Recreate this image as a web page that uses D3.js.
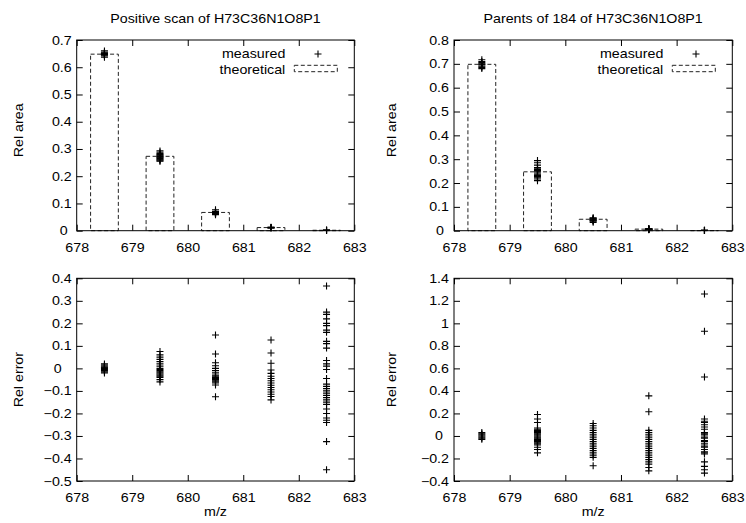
<!DOCTYPE html>
<html>
<head>
<meta charset="utf-8">
<script src="https://cdn.jsdelivr.net/npm/d3@7"></script>
<style>
  body { margin: 0; background: #fff; }
  text { font-family: "Liberation Sans", Arial, Helvetica, sans-serif; fill: #000; }
</style>
</head>
<body>
<div class="chart"></div>
<script>
// peak positions (m/z) and axis ticks
var peaks = [678.5, 679.5, 680.5, 681.5, 682.5];
var mzTicks = [678, 679, 680, 681, 682, 683];

// theoretical isotope distributions
var theoPositive = [0.648, 0.273, 0.067, 0.0115, 0.0016];
var theoParents = [0.698, 0.247, 0.048, 0.0065, 0.0008];

// measured relative areas, one list per peak
var measPositive = [
    [0.637, 0.642, 0.645, 0.647, 0.648, 0.65, 0.652, 0.655, 0.66],
    [0.293, 0.288, 0.283, 0.28, 0.277, 0.275, 0.272, 0.27, 0.268, 0.265, 0.262, 0.26, 0.257, 0.255],
    [0.077, 0.071, 0.068, 0.067, 0.066, 0.065, 0.064, 0.063, 0.062, 0.059],
    [0.013, 0.012, 0.011, 0.0105, 0.01],
    [0.002, 0.0017, 0.0015, 0.0012]
];
var measParents = [
    [0.717, 0.71, 0.705, 0.7, 0.698, 0.695, 0.69, 0.685, 0.68],
    [0.294, 0.285, 0.275, 0.265, 0.262, 0.257, 0.252, 0.247, 0.242, 0.237, 0.232, 0.227, 0.222, 0.217, 0.21],
    [0.054, 0.052, 0.05, 0.048, 0.046, 0.044, 0.042, 0.04, 0.035],
    [0.0088, 0.0079, 0.007, 0.0065, 0.006, 0.0055, 0.005, 0.0045],
    [0.0018, 0.0015, 0.0012, 0.0008, 0.0006]
];

// relative errors, one list per peak
var errPositive = [
    [-0.02, -0.015, -0.01, -0.005, 0, 0.003, 0.005, 0.01, 0.015, 0.02],
    [0.075, 0.06, 0.05, 0.04, 0.03, 0.02, 0.01, 0, -0.005, -0.01, -0.015, -0.02, -0.025, -0.03, -0.035, -0.04, -0.05, -0.06],
    [0.148, 0.064, 0.025, 0.012, 0, -0.01, -0.02, -0.03, -0.035, -0.04, -0.045, -0.05, -0.055, -0.06, -0.065, -0.074, -0.126],
    [0.126, 0.068, 0.023, -0.007, -0.022, -0.035, -0.045, -0.055, -0.065, -0.075, -0.085, -0.095, -0.105, -0.115, -0.125, -0.14],
    [0.366, 0.25, 0.24, 0.22, 0.2, 0.19, 0.17, 0.16, 0.12, 0.11, 0.09, 0.035, 0.02, 0.01, -0.005,
     -0.045, -0.07, -0.08, -0.09, -0.1, -0.11, -0.12, -0.13, -0.14, -0.15, -0.16, -0.18, -0.2, -0.22, -0.23, -0.24, -0.325, -0.45]
];
var errParents = [
    [-0.03, -0.02, -0.01, 0, 0.01, 0.02, 0.03],
    [0.19, 0.15, 0.12, 0.07, 0.06, 0.05, 0.04, 0.03, 0.02, 0.01, 0, -0.01, -0.02, -0.03, -0.04, -0.05, -0.06, -0.07, -0.08, -0.1, -0.12, -0.15],
    [0.11, 0.09, 0.07, 0.05, 0.03, 0.01, -0.01, -0.03, -0.05, -0.07, -0.09, -0.11, -0.13, -0.15, -0.17, -0.19, -0.265],
    [0.356, 0.215, 0.05, 0.03, 0.01, -0.01, -0.03, -0.05, -0.07, -0.09, -0.11, -0.13, -0.15, -0.17, -0.19, -0.21, -0.23, -0.25, -0.28, -0.31],
    [1.26, 0.93, 0.523, 0.15, 0.13, 0.12, 0.1, 0.08, 0.06, 0.03, 0.02, 0.01, -0.01, -0.02, -0.04, -0.05, -0.07, -0.09, -0.1, -0.12, -0.14, -0.15, -0.16, -0.23, -0.27, -0.3, -0.33]
];

var areaTicksPositive = [0, 0.1, 0.2, 0.3, 0.4, 0.5, 0.6, 0.7];
var areaTicksParents = [0, 0.1, 0.2, 0.3, 0.4, 0.5, 0.6, 0.7, 0.8];
var errTicksPositive = [-0.5, -0.4, -0.3, -0.2, -0.1, 0, 0.1, 0.2, 0.3, 0.4];
var errTicksParents = [-0.4, -0.2, 0, 0.2, 0.4, 0.6, 0.8, 1, 1.2, 1.4];

var svg = d3.select(".chart")
    .append("svg")
    .attr("width", 746)
    .attr("height", 523);

// the original lettering is a little wider than it is tall
var fontSize = 12.5;
var stretch = 1.14;
var plus = "M-3.5,0H3.5M0,-3.5V3.5";

function label(g, x, y, str, anchor, rotate) {
    return g.append("text")
        .attr("transform", "translate(" + x + "," + y + ")" + (rotate ? " rotate(-90)" : "") + " scale(" + stretch + ",1)")
        .attr("text-anchor", anchor)
        .attr("font-size", fontSize)
        .text(str);
}

function panel(p) {
    var x = d3.scaleLinear().domain([678, 683]).range([p.left, p.right]);
    var y = d3.scaleLinear().domain(d3.extent(p.yTicks)).range([p.bottom, p.top]);
    var g = svg.append("g");

    // inward ticks on all four sides
    g.append("g")
        .attr("transform", "translate(0," + p.bottom + ")")
        .call(d3.axisBottom(x).tickValues(mzTicks).tickFormat(d3.format("d")).tickSize(-6).tickPadding(12).tickSizeOuter(0));
    g.append("g")
        .attr("transform", "translate(0," + p.top + ")")
        .call(d3.axisTop(x).tickValues(mzTicks).tickFormat("").tickSize(-6).tickSizeOuter(0));
    var left = g.append("g")
        .attr("transform", "translate(" + p.left + ",0)")
        .call(d3.axisLeft(y).tickValues(p.yTicks).tickFormat(d3.format("")).tickSize(-6).tickPadding(4.4).tickSizeOuter(0));
    g.append("g")
        .attr("transform", "translate(" + p.right + ",0)")
        .call(d3.axisRight(y).tickValues(p.yTicks).tickFormat("").tickSize(-6).tickSizeOuter(0));

    g.selectAll(".domain").remove();
    g.selectAll(".tick line").attr("stroke", "#000");
    g.selectAll(".tick text")
        .attr("font-size", fontSize)
        .attr("font-family", null)
        .attr("transform", "scale(" + stretch + ",1)");
    left.selectAll(".tick text")
        .filter(function(d) { return d === 0; })
        .attr("dx", -p.zeroShift / stretch);

    // theoretical boxes
    if (p.theo) {
        g.selectAll(".box")
            .data(p.theo)
            .enter().append("rect")
            .attr("class", "box")
            .attr("x", function(d, i) { return x(peaks[i] - 0.25); })
            .attr("y", function(d) { return y(d); })
            .attr("width", function(d, i) { return x(peaks[i] + 0.25) - x(peaks[i] - 0.25); })
            .attr("height", function(d) { return y(0) - y(d); })
            .style("fill", "none")
            .style("stroke", "#222")
            .style("stroke-width", "1")
            .style("stroke-dasharray", "4,2.5");
    }

    // measured points
    var pts = [];
    p.points.forEach(function(list, i) {
        list.forEach(function(v) { pts.push({ mz: peaks[i], v: v }); });
    });
    g.selectAll(".pt")
        .data(pts)
        .enter().append("path")
        .attr("class", "pt")
        .attr("d", plus)
        .attr("transform", function(d) { return "translate(" + x(d.mz) + "," + y(d.v) + ")"; })
        .style("stroke", "#000")
        .style("stroke-width", "1.1")
        .style("fill", "none");

    // frame
    g.append("rect")
        .attr("x", p.left).attr("y", p.top)
        .attr("width", p.right - p.left).attr("height", p.bottom - p.top)
        .style("fill", "none").style("stroke", "#000").style("stroke-width", "1");

    if (p.title) label(g, (p.left + p.right) / 2, 22.7, p.title, "middle");
    label(g, p.ylabelX, (p.top + p.bottom) / 2 - p.ylabelUp, p.ylabel, "middle", true);
    if (p.xlabel) label(g, (p.left + p.right) / 2, 516, p.xlabel, "middle");

    // legend
    if (p.legend) {
        var lx = p.right - 69;
        label(g, lx, 58.3, "measured", "end");
        label(g, lx, 74, "theoretical", "end");
        g.append("path").attr("d", plus)
            .attr("transform", "translate(" + (p.right - 36.3) + ",54)")
            .style("stroke", "#000").style("stroke-width", "1.1");
        g.append("rect")
            .attr("x", p.right - 60).attr("y", 65.3).attr("width", 43).attr("height", 6.4)
            .style("fill", "none").style("stroke", "#222").style("stroke-dasharray", "4,2.5");
    }
}

panel({ left: 76.7, right: 354.3, top: 40, bottom: 230.7, yTicks: areaTicksPositive,
        theo: theoPositive, points: measPositive, title: "Positive scan of H73C36N1O8P1",
        ylabel: "Rel area", ylabelX: 23.3, ylabelUp: 5, legend: true, zeroShift: 4 });
panel({ left: 454, right: 732.3, top: 40, bottom: 230.7, yTicks: areaTicksParents,
        theo: theoParents, points: measParents, title: "Parents of 184 of H73C36N1O8P1",
        ylabel: "Rel area", ylabelX: 396.3, ylabelUp: 5, legend: true, zeroShift: 5 });
panel({ left: 76.7, right: 354.3, top: 278.3, bottom: 481, yTicks: errTicksPositive,
        points: errPositive, ylabel: "Rel error", ylabelX: 23.3, ylabelUp: 0,
        xlabel: "m/z", zeroShift: 10 });
panel({ left: 454, right: 732.3, top: 278.3, bottom: 481, yTicks: errTicksParents,
        points: errParents, ylabel: "Rel error", ylabelX: 396.3, ylabelUp: 0,
        xlabel: "m/z", zeroShift: 6 });
</script>
</body>
</html>
